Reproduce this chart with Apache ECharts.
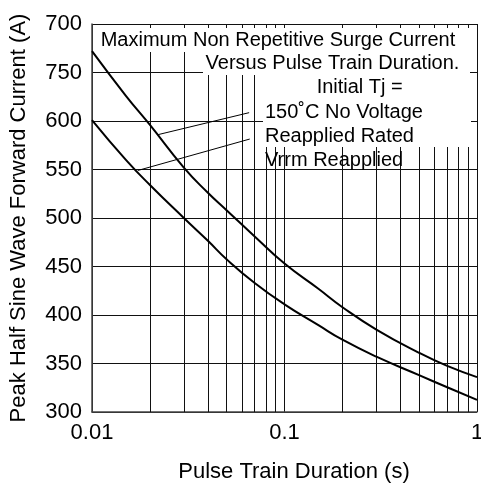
<!DOCTYPE html>
<html>
<head>
<meta charset="utf-8">
<script src="https://cdn.jsdelivr.net/npm/echarts@6/dist/echarts.min.js"></script>
<style>
html,body{margin:0;padding:0;background:#fff;}
#chart{width:481px;height:485px;}
</style>
</head>
<body>
<div id="chart"></div>
<script>
// ---- data ----
var durations    = [0.01, 0.015, 0.02, 0.03, 0.04, 0.05, 0.07, 0.1, 0.15, 0.2, 0.3, 0.5, 0.7, 1];
var upperCurrent = [672, 626, 596, 552, 526, 508, 481, 453, 427, 408, 385, 361, 347.5, 336];
var lowerCurrent = [601, 560, 534, 500, 476.5, 457.5, 433, 411, 389.5, 374.5, 357, 338, 325.5, 312.5];
var minorGridX = [0.02, 0.03, 0.04, 0.05, 0.06, 0.07, 0.08, 0.09, 0.2, 0.3, 0.4, 0.5, 0.6, 0.7, 0.8, 0.9];
var yTickValues = [300, 350, 400, 450, 500, 550, 600, 650, 700];
var yTickLabels = ['300', '350', '400', '450', '500', '550', '600', '750', '700'];
var leader1 = [[0.0655, 608.6], [0.0221, 586]];
var leader2 = [[0.066, 581.4], [0.0173, 549]];
var noteLines = ['Maximum Non Repetitive Surge Current', 'Versus Pulse Train Duration.', 'Initial Tj =', '150\u02DAC No Voltage', 'Reapplied Rated', 'Vrrm Reapplied'];

var FONT = '"Liberation Sans", Arial, Helvetica, sans-serif';

function pairs(xs, ys) { return xs.map(function (x, i) { return [x, ys[i]]; }); }

var chart = echarts.init(document.getElementById('chart'), null, {renderer: 'canvas'});

var option = {
  animation: false,
  backgroundColor: '#fff',
  grid: {left: 92, top: 24, width: 385, height: 388, containLabel: false, outerBoundsMode: 'none'},
  xAxis: {
    type: 'log', logBase: 10, min: 0.01, max: 1,
    name: 'Pulse Train Duration (s)', nameLocation: 'middle', nameGap: 49,
    nameTextStyle: {fontFamily: FONT, fontSize: 22, color: '#000', padding: [0, 0, 0, 19]},
    axisLine: {show: true, lineStyle: {color: '#444', width: 1.5}},
    axisTick: {show: false},
    axisLabel: {fontFamily: FONT, fontSize: 22, color: '#000', margin: 10, hideOverlap: false,
      formatter: function (v) { return String(+v.toPrecision(6)); }},
    splitLine: {show: true, showMinLine: true, showMaxLine: true, lineStyle: {color: '#111', width: 1}}
  },
  yAxis: {
    type: 'value', min: 300, max: 700, interval: 50,
    name: 'Peak Half Sine Wave Forward Current (A)', nameLocation: 'middle', nameGap: 62,
    nameTextStyle: {fontFamily: FONT, fontSize: 22, color: '#000'},
    axisLine: {show: true, lineStyle: {color: '#444', width: 1.5}},
    axisTick: {show: false},
    axisLabel: {fontFamily: FONT, fontSize: 22, color: '#000', margin: 10,
      formatter: function (v) { var i = yTickValues.indexOf(v); return i >= 0 ? yTickLabels[i] : ''; }},
    splitLine: {show: true, showMinLine: true, showMaxLine: true, lineStyle: {color: '#111', width: 1}}
  },
  series: [
    {
      type: 'line', name: 'grid', data: [], z: 1, silent: true,
      markLine: {
        z: 1, silent: true, symbol: ['none', 'none'], label: {show: false},
        lineStyle: {color: '#111', width: 1, type: 'solid'},
        data: minorGridX.map(function (v) { return {xAxis: v}; })
      }
    },
    {
      type: 'line', name: 'upper', data: pairs(durations, upperCurrent), z: 5,
      smooth: 0.5, showSymbol: false, lineStyle: {color: '#000', width: 2},
      markLine: {
        z: 6, silent: true, symbol: ['none', 'none'], label: {show: false},
        lineStyle: {color: '#000', width: 1, type: 'solid'},
        data: [[{coord: leader1[0]}, {coord: leader1[1]}], [{coord: leader2[0]}, {coord: leader2[1]}]]
      }
    },
    {
      type: 'line', name: 'lower', data: pairs(durations, lowerCurrent), z: 5,
      smooth: 0.5, showSymbol: false, lineStyle: {color: '#000', width: 2}
    }
  ],
  graphic: [
    {type: 'rect', z: 3, silent: true, shape: {x: 94, y: 28, width: 382, height: 24}, style: {fill: '#fff'}},
    {type: 'rect', z: 3, silent: true, shape: {x: 203, y: 52, width: 267, height: 23}, style: {fill: '#fff'}},
    {type: 'rect', z: 3, silent: true, shape: {x: 263, y: 75, width: 208, height: 72}, style: {fill: '#fff'}},
    {type: 'text', z: 10, x: 278, y: 40, style: {text: noteLines[0], font: '20px ' + FONT, fill: '#000', textAlign: 'center', textVerticalAlign: 'middle'}},
    {type: 'text', z: 10, x: 332.5, y: 63.5, style: {text: noteLines[1], font: '20px ' + FONT, fill: '#000', textAlign: 'center', textVerticalAlign: 'middle'}},
    {type: 'text', z: 10, x: 359.7, y: 87.5, style: {text: noteLines[2], font: '20px ' + FONT, fill: '#000', textAlign: 'center', textVerticalAlign: 'middle'}},
    {type: 'text', z: 10, x: 265, y: 112, style: {text: noteLines[3], font: '20px ' + FONT, fill: '#000', textAlign: 'left', textVerticalAlign: 'middle'}},
    {type: 'text', z: 10, x: 265, y: 136, style: {text: noteLines[4], font: '20px ' + FONT, fill: '#000', textAlign: 'left', textVerticalAlign: 'middle'}},
    {type: 'text', z: 10, x: 265, y: 160, style: {text: noteLines[5], font: '20px ' + FONT, fill: '#000', textAlign: 'left', textVerticalAlign: 'middle'}}
  ]
};
chart.setOption(option);
</script>
</body>
</html>
